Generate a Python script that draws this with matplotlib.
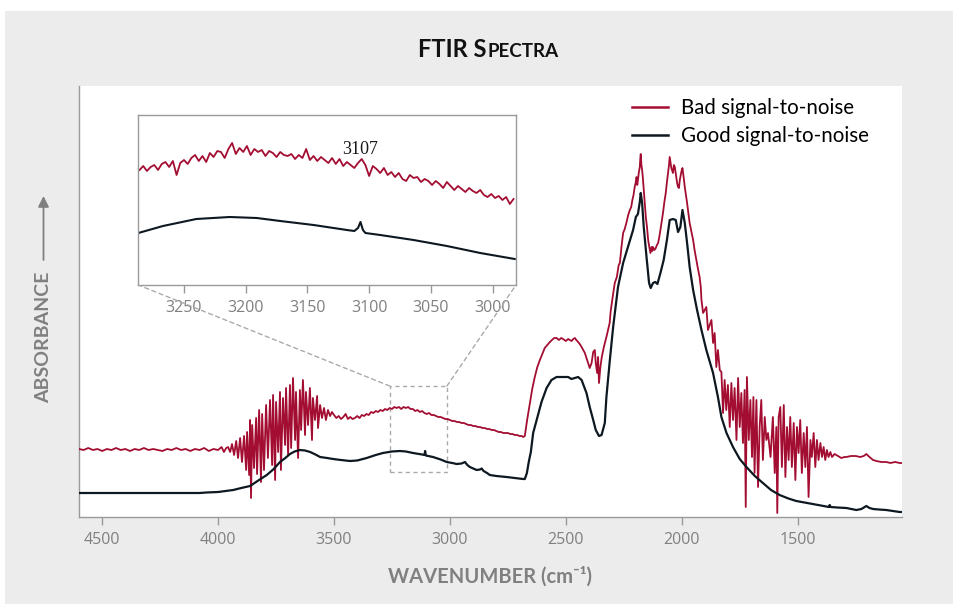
import matplotlib
matplotlib.use('Agg')
import matplotlib.pyplot as plt
from matplotlib.patches import Rectangle, ConnectionPatch

# ---------------- data ----------------
x_ticks = [4500, 4000, 3500, 3000, 2500, 2000, 1500]
inset_ticks = [3250, 3200, 3150, 3100, 3050, 3000]
series_labels = ["Bad signal-to-noise", "Good signal-to-noise"]
peak_label = "3107"

good_points = [
    (4600, 0.24), (4400, 0.24), (4200, 0.24), (4080, 0.24), (4050, 0.245), (4000, 0.25),
    (3935, 0.27), (3900, 0.29), (3862, 0.31), (3830, 0.36), (3790, 0.42), (3760, 0.48),
    (3733, 0.55), (3710, 0.59), (3690, 0.63), (3670, 0.655), (3647, 0.67), (3625, 0.665),
    (3603, 0.65), (3580, 0.625), (3560, 0.60), (3530, 0.59), (3504, 0.58), (3470, 0.57),
    (3431, 0.56), (3400, 0.565), (3359, 0.59), (3320, 0.62), (3289, 0.64), (3250, 0.655),
    (3216, 0.66), (3190, 0.655), (3159, 0.64), (3120, 0.625), (3110, 0.62), (3107, 0.66),
    (3104, 0.615), (3073, 0.60), (3040, 0.575), (3014, 0.55), (2990, 0.54), (2971, 0.53),
    (2950, 0.535), (2935, 0.55), (2925, 0.52), (2914, 0.50), (2900, 0.485), (2885, 0.47),
    (2870, 0.475), (2863, 0.485), (2855, 0.46), (2840, 0.44), (2828, 0.42), (2800, 0.41),
    (2756, 0.40), (2720, 0.39), (2685, 0.38), (2677, 0.38), (2668, 0.44), (2660, 0.55),
    (2651, 0.65), (2641, 0.84), (2626, 0.97), (2605, 1.15), (2583, 1.29), (2562, 1.37),
    (2540, 1.40), (2512, 1.40), (2490, 1.40), (2476, 1.38), (2461, 1.39), (2447, 1.40),
    (2432, 1.37), (2411, 1.24), (2397, 1.10), (2382, 0.97), (2371, 0.87), (2357, 0.81),
    (2346, 0.82), (2332, 0.94), (2325, 1.20), (2311, 1.55), (2296, 1.90), (2275, 2.30),
    (2253, 2.54), (2232, 2.70), (2210, 2.87), (2198, 3.00), (2189, 3.03), (2181, 3.15),
    (2177, 3.24), (2171, 3.14), (2164, 2.90), (2152, 2.60), (2141, 2.34), (2134, 2.29),
    (2124, 2.34), (2114, 2.35), (2105, 2.33), (2092, 2.44), (2078, 2.57), (2064, 2.77),
    (2052, 2.97), (2038, 2.98), (2026, 2.97), (2016, 2.85), (2006, 2.90), (1997, 3.07),
    (1987, 2.94), (1977, 2.74), (1966, 2.50), (1951, 2.27), (1934, 2.07), (1915, 1.87),
    (1894, 1.67), (1865, 1.44), (1844, 1.20), (1829, 1.00), (1807, 0.84), (1779, 0.70),
    (1750, 0.58), (1721, 0.50), (1685, 0.41), (1650, 0.34), (1615, 0.27), (1578, 0.22),
    (1540, 0.185), (1506, 0.16), (1470, 0.145), (1434, 0.13), (1400, 0.115), (1366, 0.10),
    (1362, 0.12), (1358, 0.10), (1330, 0.095), (1290, 0.09), (1247, 0.07), (1225, 0.08),
    (1204, 0.11), (1190, 0.09), (1175, 0.08), (1150, 0.075), (1118, 0.07), (1090, 0.06),
    (1060, 0.05), (1050, 0.05),
]

bad_points = [
    (4600, 0.68), (4580, 0.67), (4560, 0.69), (4540, 0.67), (4520, 0.68), (4500, 0.66),
    (4480, 0.68), (4460, 0.67), (4440, 0.69), (4420, 0.67), (4400, 0.68), (4380, 0.66),
    (4360, 0.68), (4340, 0.67), (4320, 0.69), (4300, 0.67), (4280, 0.68), (4260, 0.67),
    (4240, 0.66), (4220, 0.68), (4200, 0.67), (4180, 0.69), (4160, 0.67), (4140, 0.68),
    (4120, 0.66), (4100, 0.68), (4080, 0.67), (4060, 0.69), (4040, 0.66), (4020, 0.68),
    (4000, 0.67), (3985, 0.70), (3975, 0.65), (3965, 0.69),
    (3957, 0.70), (3948, 0.65), (3940, 0.73), (3931, 0.62), (3922, 0.76), (3914, 0.59),
    (3905, 0.79), (3897, 0.55), (3888, 0.81), (3879, 0.47), (3875, 0.85), (3866, 0.42),
    (3862, 0.97), (3858, 0.19), (3853, 0.92), (3845, 0.49), (3836, 0.99), (3832, 0.43),
    (3823, 1.07), (3815, 0.35), (3810, 1.03), (3802, 0.47), (3793, 1.12), (3785, 0.59),
    (3776, 1.17), (3767, 0.52), (3763, 1.22), (3754, 0.37), (3750, 1.15), (3741, 0.65),
    (3733, 1.25), (3729, 0.47), (3720, 1.19), (3711, 0.72), (3707, 1.29), (3698, 0.62),
    (3690, 1.32), (3685, 0.69), (3677, 1.39), (3668, 0.77), (3664, 1.25), (3655, 0.59),
    (3647, 1.27), (3642, 0.87), (3634, 1.37), (3625, 0.82), (3621, 1.25), (3612, 0.92),
    (3604, 1.29), (3595, 0.77), (3591, 1.19), (3582, 0.97), (3573, 1.21), (3569, 0.89),
    (3560, 1.12), (3552, 0.99), (3543, 1.09), (3535, 0.97), (3526, 1.07), (3517, 1.01),
    (3509, 1.05),
    (3500, 1.02), (3490, 0.99), (3480, 1.01), (3470, 0.98), (3460, 1.00), (3450, 1.03),
    (3440, 0.98), (3430, 1.00), (3420, 0.98), (3410, 0.99), (3400, 1.01), (3390, 0.99),
    (3380, 1.02), (3370, 1.01), (3360, 1.03), (3350, 1.02), (3340, 1.05), (3330, 1.04),
    (3320, 1.06), (3310, 1.05), (3300, 1.07), (3290, 1.06), (3280, 1.08), (3270, 1.07),
    (3260, 1.09), (3250, 1.08), (3240, 1.10), (3230, 1.09), (3220, 1.10), (3210, 1.08),
    (3200, 1.10), (3190, 1.09), (3180, 1.10), (3170, 1.08), (3160, 1.08), (3150, 1.06),
    (3140, 1.07), (3130, 1.05), (3120, 1.06), (3110, 1.04), (3100, 1.03), (3090, 1.04),
    (3080, 1.02), (3070, 1.02), (3060, 1.01), (3050, 1.00), (3040, 1.00), (3030, 0.99),
    (3020, 0.98), (3010, 0.98), (3000, 0.97), (2990, 0.96), (2980, 0.96), (2970, 0.95),
    (2960, 0.95), (2950, 0.94), (2940, 0.94), (2930, 0.93), (2920, 0.92), (2910, 0.92),
    (2900, 0.91), (2890, 0.91), (2880, 0.90), (2870, 0.90), (2860, 0.89), (2850, 0.89),
    (2840, 0.88), (2830, 0.88), (2820, 0.87), (2810, 0.87), (2800, 0.86), (2790, 0.85),
    (2780, 0.85), (2770, 0.84), (2760, 0.84), (2750, 0.84), (2740, 0.83), (2730, 0.83),
    (2720, 0.82), (2710, 0.82), (2700, 0.81), (2690, 0.81), (2684, 0.80), (2677, 0.81),
    (2667, 0.97), (2655, 1.14), (2645, 1.28), (2634, 1.40), (2623, 1.50), (2612, 1.57),
    (2600, 1.64), (2591, 1.69), (2580, 1.72), (2569, 1.75), (2560, 1.77), (2550, 1.79),
    (2540, 1.79), (2530, 1.77), (2520, 1.79), (2512, 1.78), (2500, 1.76), (2490, 1.78),
    (2483, 1.77), (2475, 1.76), (2468, 1.78), (2461, 1.79), (2455, 1.77), (2447, 1.75),
    (2440, 1.73), (2432, 1.70), (2418, 1.64), (2404, 1.54), (2397, 1.49), (2389, 1.54),
    (2382, 1.65), (2375, 1.67), (2371, 1.54), (2365, 1.44), (2361, 1.60), (2357, 1.34),
    (2351, 1.50), (2345, 1.60), (2336, 1.70), (2325, 1.80), (2311, 1.94), (2307, 2.05),
    (2298, 2.20), (2289, 2.34), (2280, 2.40), (2272, 2.52), (2267, 2.54), (2260, 2.70),
    (2253, 2.84), (2246, 2.88), (2239, 2.94), (2231, 3.02), (2224, 3.07), (2218, 3.10),
    (2213, 3.17), (2208, 3.22), (2203, 3.30), (2199, 3.34), (2195, 3.40), (2192, 3.32),
    (2189, 3.37), (2185, 3.45), (2181, 3.50), (2179, 3.58), (2177, 3.63), (2174, 3.52),
    (2171, 3.47), (2168, 3.40), (2164, 3.27), (2160, 3.15), (2155, 3.00), (2150, 2.90),
    (2145, 2.77), (2140, 2.70), (2135, 2.64), (2130, 2.70), (2127, 2.66), (2124, 2.70),
    (2118, 2.67), (2112, 2.69), (2107, 2.72), (2102, 2.74), (2097, 2.80), (2092, 2.87),
    (2087, 2.95), (2081, 3.04), (2075, 3.15), (2069, 3.24), (2064, 3.35), (2059, 3.44),
    (2055, 3.52), (2052, 3.60), (2049, 3.55), (2045, 3.49), (2041, 3.46), (2038, 3.44),
    (2034, 3.52), (2030, 3.50), (2025, 3.42), (2020, 3.34), (2016, 3.30), (2012, 3.29),
    (2009, 3.36), (2006, 3.40), (2001, 3.46), (1997, 3.49), (1992, 3.40), (1987, 3.30),
    (1982, 3.22), (1977, 3.14), (1972, 3.05), (1966, 2.94), (1958, 2.85), (1951, 2.77),
    (1944, 2.66), (1937, 2.57), (1930, 2.48), (1923, 2.40), (1918, 2.30),
    (1915, 2.17), (1908, 2.04), (1894, 2.10), (1887, 1.87), (1872, 1.97), (1865, 1.74),
    (1858, 1.84), (1851, 1.50), (1844, 1.67), (1836, 1.47), (1829, 1.45), (1822, 1.04),
    (1815, 1.37), (1808, 1.07), (1801, 1.32), (1793, 0.90), (1786, 1.34), (1779, 0.97),
    (1772, 1.29), (1764, 0.77), (1757, 1.39), (1750, 0.90), (1743, 1.24), (1736, 0.74),
    (1729, 1.27), (1724, 0.10), (1719, 1.40), (1711, 0.77), (1704, 1.17), (1697, 0.60),
    (1691, 1.20), (1686, 0.44), (1678, 1.17), (1671, 0.30), (1664, 0.90), (1657, 1.17),
    (1650, 0.57), (1642, 1.00), (1635, 0.77), (1628, 0.84), (1617, 0.60), (1607, 1.00),
    (1599, 0.44), (1592, 0.90), (1588, 0.04), (1582, 1.00), (1575, 1.10), (1568, 0.50),
    (1560, 1.12), (1553, 0.40), (1546, 0.90), (1539, 0.57), (1532, 1.00), (1525, 0.50),
    (1517, 0.94), (1510, 0.37), (1503, 0.90), (1496, 0.64), (1489, 0.97), (1482, 0.44),
    (1474, 0.84), (1467, 0.50), (1460, 0.90), (1453, 0.20), (1445, 0.77), (1439, 0.60),
    (1431, 0.84), (1424, 0.50), (1417, 0.77), (1410, 0.57), (1402, 0.74), (1395, 0.60),
    (1388, 0.70), (1381, 0.57), (1374, 0.67), (1367, 0.60), (1359, 0.65), (1352, 0.60),
    (1341, 0.63), (1326, 0.61), (1312, 0.59), (1298, 0.60), (1290, 0.60), (1270, 0.61),
    (1250, 0.61), (1230, 0.60), (1215, 0.61), (1204, 0.63), (1190, 0.60), (1175, 0.57),
    (1160, 0.56), (1140, 0.55), (1118, 0.55), (1100, 0.54), (1080, 0.55), (1060, 0.54),
    (1050, 0.54),
]

inset_good_points = [
    (3287, 0.52), (3267, 0.59), (3240, 0.66), (3213, 0.68), (3191, 0.67), (3172, 0.64),
    (3145, 0.60), (3118, 0.55), (3112, 0.54), (3109, 0.57), (3107, 0.63), (3105, 0.55),
    (3103, 0.52), (3091, 0.50), (3064, 0.45), (3037, 0.39), (3010, 0.32), (2982, 0.26),
]

inset_bad_points = [
    (3286, 1.15), (3283, 1.19), (3280, 1.14), (3277, 1.18), (3274, 1.20), (3271, 1.15),
    (3268, 1.21), (3265, 1.23), (3262, 1.18), (3259, 1.24), (3256, 1.10), (3253, 1.22),
    (3250, 1.25), (3247, 1.21), (3244, 1.27), (3241, 1.30), (3238, 1.24), (3235, 1.29),
    (3232, 1.23), (3229, 1.32), (3226, 1.28), (3223, 1.34), (3220, 1.33), (3217, 1.27),
    (3214, 1.36), (3211, 1.42), (3208, 1.31), (3205, 1.37), (3202, 1.33), (3199, 1.39),
    (3196, 1.30), (3193, 1.36), (3190, 1.33), (3187, 1.35), (3184, 1.29), (3181, 1.34),
    (3178, 1.32), (3175, 1.28), (3172, 1.33), (3169, 1.30), (3166, 1.29), (3163, 1.31),
    (3160, 1.26), (3157, 1.30), (3154, 1.27), (3151, 1.36), (3148, 1.25), (3145, 1.29),
    (3142, 1.24), (3139, 1.28), (3136, 1.25), (3133, 1.22), (3130, 1.27), (3127, 1.21),
    (3124, 1.26), (3121, 1.19), (3118, 1.23), (3115, 1.20), (3112, 1.17), (3109, 1.22),
    (3106, 1.26), (3103, 1.20), (3100, 1.09), (3097, 1.19), (3094, 1.16), (3091, 1.12),
    (3088, 1.17), (3085, 1.10), (3082, 1.13), (3079, 1.08), (3076, 1.12), (3073, 1.06),
    (3070, 1.04), (3067, 1.10), (3064, 1.07), (3061, 1.08), (3058, 1.03), (3055, 1.06),
    (3052, 1.04), (3049, 1.00), (3046, 1.04), (3043, 1.01), (3040, 0.97), (3037, 1.03),
    (3034, 0.99), (3031, 0.95), (3028, 0.99), (3025, 0.96), (3022, 0.93), (3019, 0.97),
    (3016, 0.94), (3013, 0.92), (3010, 0.95), (3007, 0.90), (3004, 0.88), (3001, 0.91),
    (2998, 0.87), (2995, 0.89), (2992, 0.85), (2989, 0.88), (2986, 0.81), (2983, 0.86),
]

# ---------------- style ----------------
RED = '#A30D32'
BLACK = '#0E1820'
GRAY = '#808080'
W, H = 954, 604

def fx(px):
    return px / W

def fy(py):
    return 1 - py / H

fig = plt.figure(figsize=(W / 100, H / 100), dpi=100, facecolor='white')
fig.patches.append(Rectangle((fx(5), 0), (W - 5) / W, (H - 11) / H,
                             transform=fig.transFigure, facecolor='#ececec',
                             edgecolor='none', zorder=-5))

ax = fig.add_axes([fx(79), fy(517), (902 - 79) / W, (517 - 86) / H])
gw, ga = zip(*good_points)
bw, ba = zip(*bad_points)
ax.plot(bw, ba, color=RED, lw=1.3, label=series_labels[0], zorder=3)
ax.plot(gw, ga, color=BLACK, lw=1.6, label=series_labels[1], zorder=4)
ax.set_xlim(4600, 1050)
ax.set_ylim(0, 4.31)
ax.set_yticks([])
ax.set_xticks(x_ticks)
ax.set_xticklabels([str(t) for t in x_ticks])
ax.tick_params(axis='x', direction='out', length=6, width=1, colors='#999999',
               labelcolor=GRAY, labelsize=11.5, pad=5)
for lab in ax.get_xticklabels():
    lab.set_family(['Open Sans', 'DejaVu Sans'])
for s in ['top', 'right']:
    ax.spines[s].set_visible(False)
for s in ['left', 'bottom']:
    ax.spines[s].set_color('#9a9a9a')
    ax.spines[s].set_linewidth(1)

leg = ax.legend(loc='upper left', bbox_to_anchor=(fx(632), fy(98)),
                bbox_transform=fig.transFigure, frameon=False,
                handlelength=1.75, handletextpad=0.65, borderpad=0, borderaxespad=0,
                labelspacing=0.38, prop={'family': ['Lato', 'DejaVu Sans'], 'size': 14.8})
for line in leg.get_lines():
    line.set_linewidth(1.8)

# dashed zoom box and connectors
box_l, box_r, box_b, box_t = 3260, 3013, 0.45, 1.31
ax.add_patch(Rectangle((box_l, box_b), box_r - box_l, box_t - box_b, fill=False,
                       edgecolor='#aaaaaa', lw=1, ls=(0, (3, 2.5)), zorder=2))

# inset
axin = fig.add_axes([fx(138.3), fy(285), (516 - 138.3) / W, 170 / H])
iw, ia = zip(*inset_good_points)
jw, ja = zip(*inset_bad_points)
axin.plot(jw, ja, color=RED, lw=1.3)
axin.plot(iw, ia, color=BLACK, lw=1.5)
axin.set_xlim(3287, 2981)
axin.set_ylim(0, 1.70)
axin.set_yticks([])
axin.set_xticks(inset_ticks)
axin.set_xticklabels([str(t) for t in inset_ticks])
axin.tick_params(axis='x', direction='out', length=6, width=1, colors='#999999',
                 labelcolor=GRAY, labelsize=11.5, pad=5)
for lab in axin.get_xticklabels():
    lab.set_family(['Open Sans', 'DejaVu Sans'])
for s in axin.spines.values():
    s.set_color('#9a9a9a')
    s.set_linewidth(1)
axin.text(3107, 1.35, peak_label, ha='center', va='center', fontsize=13,
          family=['Liberation Serif', 'DejaVu Serif'], color='#1a1a1a')

for xa, xb in [(box_l, 0), (box_r, 1)]:
    con = ConnectionPatch(xyA=(xa, box_t), coordsA=ax.transData,
                          xyB=(xb, 0), coordsB=axin.transAxes,
                          color='#aaaaaa', lw=1, ls=(0, (3, 2.5)), zorder=1)
    fig.add_artist(con)

# axis labels
fig.text(fx(490), fy(577), 'WAVENUMBER (cm⁻¹)', ha='center', va='center',
         fontsize=14.5, fontweight='bold', color=GRAY, family=['Lato', 'DejaVu Sans'])
fig.text(fx(44), fy(337), 'ABSORBANCE', ha='center', va='center', rotation=90,
         fontsize=14, fontweight='bold', color=GRAY, family=['Lato', 'DejaVu Sans'])
ax.annotate('', xy=(fx(43.5), fy(196)), xytext=(fx(43.5), fy(260)),
            xycoords='figure fraction', textcoords='figure fraction',
            arrowprops=dict(arrowstyle='-|>', color=GRAY, lw=1.3,
                            mutation_scale=16, shrinkA=0, shrinkB=0))

# title with small caps
tfam = ['Lato', 'DejaVu Sans']
t1 = fig.text(0, fy(57), 'FTIR S', ha='left', va='baseline', fontsize=17,
              fontweight='bold', color='#111111', family=tfam)
t2 = fig.text(0, fy(57), 'PECTRA', ha='left', va='baseline', fontsize=13.5,
              fontweight='bold', color='#111111', family=tfam)
renderer = fig.canvas.get_renderer()
w1 = t1.get_window_extent(renderer).width
w2 = t2.get_window_extent(renderer).width
x0 = 488 - (w1 + w2) / 2
t1.set_x(fx(x0))
t2.set_x(fx(x0 + w1 + 1))

fig.savefig('out.png', dpi=100, facecolor=fig.get_facecolor())
